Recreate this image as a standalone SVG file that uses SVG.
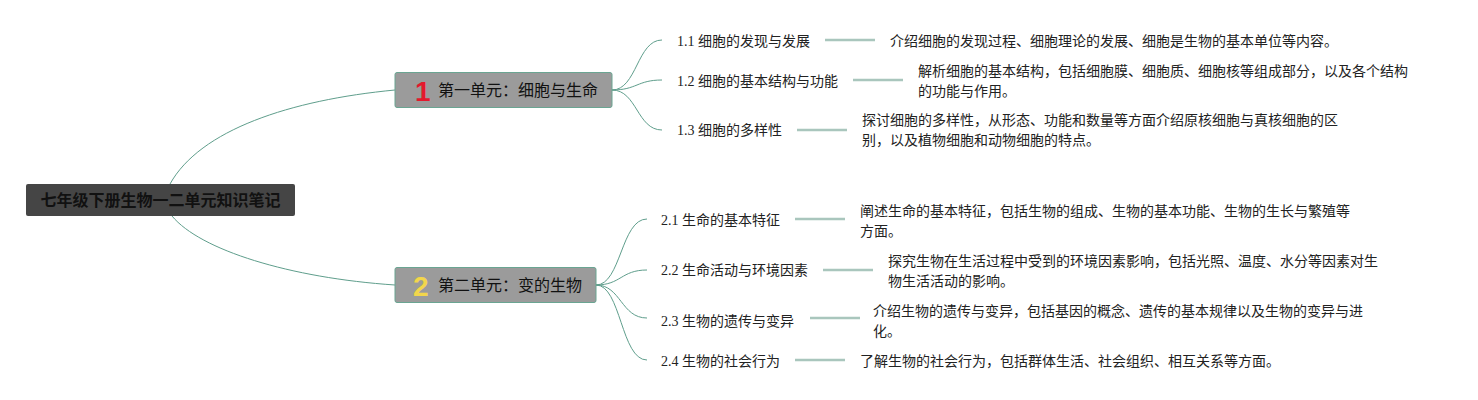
<svg xmlns="http://www.w3.org/2000/svg" width="1478" height="400" viewBox="0 0 1478 400">
<style>
.conn{fill:none;stroke:#5f9e8c;stroke-width:1}
.tail{stroke:#a9c6bd;stroke-width:2.5}
.root{fill:#454545}
.roottxt{font-family:"Noto Sans CJK SC",sans-serif;font-size:16px;font-weight:bold;fill:#111}
.unit{fill:#9b9b9b;stroke:#6aa592;stroke-width:1}
.unittxt{font-family:"Noto Sans CJK SC",sans-serif;font-size:16px;fill:#111}
.num{font-family:"Liberation Sans","DejaVu Sans",sans-serif;font-size:28px;font-weight:bold}
.sub{font-family:"Liberation Serif","Noto Sans CJK SC",serif;font-size:14px;fill:#222}
.desc{font-family:"Noto Sans CJK SC",sans-serif;font-size:14px;fill:#222}
</style>
<rect width="1478" height="400" fill="#fff"/>
<g id="connectors">
<path class="conn" d="M170,184 C200,130 290,100 395,90"/>
<path class="conn" d="M172,216 C200,250 290,278 395,285"/>
<path class="conn" d="M612,90 C637,90 637,40 662,40"/>
<path class="conn" d="M612,90 C637,90 637,80 662,80"/>
<path class="conn" d="M612,90 C637,90 637,130 662,130"/>
<path class="conn" d="M596,285 C621,285 621,219 647,219"/>
<path class="conn" d="M596,285 C621,285 621,270 647,270"/>
<path class="conn" d="M596,285 C621,285 621,318 647,318"/>
<path class="conn" d="M596,285 C621,285 621,360 647,360"/>
<line class="tail" x1="825" y1="40" x2="875" y2="40"/>
<line class="tail" x1="853" y1="80" x2="903" y2="80"/>
<line class="tail" x1="797" y1="130" x2="847" y2="130"/>
<line class="tail" x1="795" y1="219" x2="845" y2="219"/>
<line class="tail" x1="823" y1="270" x2="873" y2="270"/>
<line class="tail" x1="810" y1="318" x2="860" y2="318"/>
<line class="tail" x1="795" y1="360" x2="845" y2="360"/>
</g>
<g id="root">
<rect class="root" x="26" y="184" width="269" height="32" rx="2"/>
<text class="roottxt" x="160.5" y="206" text-anchor="middle">七年级下册生物一二单元知识笔记</text>
</g>
<g id="unit1">
<rect class="unit" x="395" y="72.5" width="217" height="35" rx="2"/>
<text class="num" x="415" y="101" fill="#e3192d">1</text>
<text class="unittxt" x="438" y="96">第一单元：细胞与生命</text>
</g>
<g id="unit2">
<rect class="unit" x="395" y="267.5" width="201" height="35" rx="2"/>
<text class="num" x="413" y="296" fill="#f2d64b">2</text>
<text class="unittxt" x="438" y="291">第二单元：变的生物</text>
</g>
<g id="s11"><text class="sub" x="677" y="46">1.1 细胞的发现与发展</text></g>
<g id="s12"><text class="sub" x="677" y="86">1.2 细胞的基本结构与功能</text></g>
<g id="s13"><text class="sub" x="677" y="135">1.3 细胞的多样性</text></g>
<g id="s21"><text class="sub" x="661" y="225">2.1 生命的基本特征</text></g>
<g id="s22"><text class="sub" x="661" y="275">2.2 生命活动与环境因素</text></g>
<g id="s23"><text class="sub" x="661" y="326">2.3 生物的遗传与变异</text></g>
<g id="s24"><text class="sub" x="661" y="366">2.4 生物的社会行为</text></g>
<g id="d11"><text class="desc" x="890" y="46">介绍细胞的发现过程、细胞理论的发展、细胞是生物的基本单位等内容。</text></g>
<g id="d12"><text class="desc" x="918" y="76">解析细胞的基本结构，包括细胞膜、细胞质、细胞核等组成部分，以及各个结构</text><text class="desc" x="918" y="96">的功能与作用。</text></g>
<g id="d13"><text class="desc" x="862" y="125">探讨细胞的多样性，从形态、功能和数量等方面介绍原核细胞与真核细胞的区</text><text class="desc" x="862" y="145">别，以及植物细胞和动物细胞的特点。</text></g>
<g id="d21"><text class="desc" x="860" y="216">阐述生命的基本特征，包括生物的组成、生物的基本功能、生物的生长与繁殖等</text><text class="desc" x="860" y="236">方面。</text></g>
<g id="d22"><text class="desc" x="888" y="266">探究生物在生活过程中受到的环境因素影响，包括光照、温度、水分等因素对生</text><text class="desc" x="888" y="286">物生活活动的影响。</text></g>
<g id="d23"><text class="desc" x="873" y="316">介绍生物的遗传与变异，包括基因的概念、遗传的基本规律以及生物的变异与进</text><text class="desc" x="873" y="336">化。</text></g>
<g id="d24"><text class="desc" x="860" y="366">了解生物的社会行为，包括群体生活、社会组织、相互关系等方面。</text></g>
</svg>
